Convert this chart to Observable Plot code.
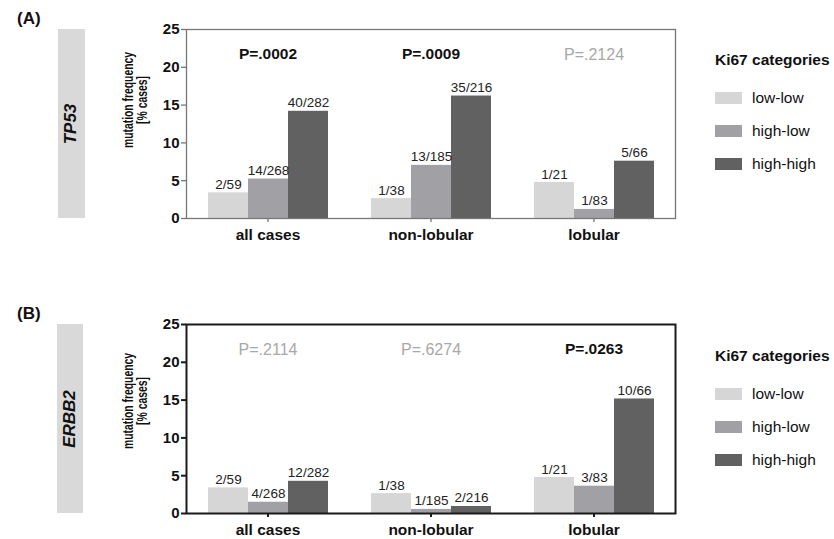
<!DOCTYPE html>
<html>
<head>
<meta charset="utf-8">
<script src="https://cdn.jsdelivr.net/npm/d3@7"></script>
<script src="https://cdn.jsdelivr.net/npm/@observablehq/plot@0.6"></script>
<style>
  html, body { margin: 0; padding: 0; background: #fff; }
  body { width: 834px; height: 539px; overflow: hidden; position: relative;
         font-family: "Liberation Sans", Arial, sans-serif; color: #111; }
  .abs { position: absolute; }
  .tag { font-weight: bold; font-size: 17px; }
  .gene { background: #d9d9d9; display: flex; align-items: center; justify-content: center; }
  .gene span { transform: rotate(-90deg); font-weight: bold; font-style: italic; font-size: 17px; white-space: nowrap; color: #111; }
  .ylab { transform: translate(-50%, -50%) rotate(-90deg) scale(0.74, 1); font-weight: bold; font-size: 14px;
          line-height: 14px; text-align: center; white-space: nowrap; }
  .legend-title { font-weight: bold; font-size: 15.5px; white-space: nowrap; }
  .legend-item { display: flex; align-items: center; font-size: 15.5px; white-space: nowrap; }
  .legend-item i { display: inline-block; width: 27px; height: 12px; margin-right: 10px; }
</style>
</head>
<body>
<script>
// ---- data ----
const groups = ["all cases", "non-lobular", "lobular"];
const series = ["low-low", "high-low", "high-high"];
const seriesColors = ["#d6d6d6", "#a1a1a5", "#616161"];
const yTicks = [0, 5, 10, 15, 20, 25];

const tp53Values = [3.39, 5.22, 14.18, 2.63, 7.03, 16.20, 4.76, 1.20, 7.58];
const tp53Labels = ["2/59", "14/268", "40/282", "1/38", "13/185", "35/216", "1/21", "1/83", "5/66"];
const tp53P = ["P=.0002", "P=.0009", "P=.2124"];
const tp53Sig = [true, true, false];

const erbb2Values = [3.39, 1.49, 4.26, 2.63, 0.54, 0.93, 4.76, 3.61, 15.15];
const erbb2Labels = ["2/59", "4/268", "12/282", "1/38", "1/185", "2/216", "1/21", "3/83", "10/66"];
const erbb2P = ["P=.2114", "P=.6274", "P=.0263"];
const erbb2Sig = [false, false, true];

const pY = 21.7;

function rowsOf(values, labels) {
  const rows = [];
  groups.forEach((g, i) => series.forEach((s, j) => {
    const k = i * series.length + j;
    rows.push({group: g, series: s, value: values[k], label: labels[k]});
  }));
  return rows;
}
function pRowsOf(ps, sig) {
  return groups.map((g, i) => ({group: g, p: ps[i], sig: sig[i], y: pY}));
}

function panel(values, labels, ps, sig, frameColor, frameWidth, height, marginBottom) {
  const rows = rowsOf(values, labels);
  const prows = pRowsOf(ps, sig);
  return Plot.plot({
    width: 690,
    height,
    marginLeft: 185,
    marginRight: 14,
    marginTop: 29,
    marginBottom,
    style: {fontFamily: '"Liberation Sans", Arial, sans-serif', background: "transparent", color: "#111", overflow: "visible"},
    fx: {domain: groups, padding: 0, label: null},
    x: {domain: series, paddingInner: 0, paddingOuter: 0.5, axis: null},
    y: {domain: [0, 25], label: null},
    color: {domain: series, range: seriesColors},
    marks: [
      Plot.barY(rows, {fx: "group", x: "series", y: "value", fill: "series"}),
      Plot.text(rows, {fx: "group", x: "series", y: "value", text: "label", lineAnchor: "bottom", dy: -4, fontSize: 13.5, fill: "#222"}),
      Plot.text(prows.filter(d => d.sig), {fx: "group", y: "y", text: "p", frameAnchor: "middle", fontSize: 15.5, fontWeight: "bold", fill: "#111"}),
      Plot.text(prows.filter(d => !d.sig), {fx: "group", y: "y", text: "p", frameAnchor: "middle", fontSize: 16, fill: "#a8a8a8"}),
      Plot.frame({facet: "super", stroke: frameColor, strokeWidth: frameWidth}),
      Plot.axisY({ticks: yTicks, tickSize: 5, tickPadding: 2, fontSize: 15, fontWeight: "bold", stroke: frameColor, strokeWidth: frameWidth, fill: "#111", label: null}),
      Plot.axisFx({anchor: "bottom", tickSize: 4, tickPadding: 6, fontSize: 15.5, fontWeight: "bold", stroke: frameColor, strokeWidth: frameWidth, fill: "#111", label: null})
    ]
  });
}

function addDiv(cls, style, html) {
  const d = document.createElement("div");
  d.className = "abs " + cls;
  Object.assign(d.style, style);
  if (html != null) d.innerHTML = html;
  document.body.appendChild(d);
  return d;
}

function legend(top) {
  const box = addDiv("", {left: "715px", top: top + "px"});
  const t = document.createElement("div");
  t.className = "legend-title";
  t.textContent = "Ki67 categories";
  t.style.marginBottom = "18px";
  box.appendChild(t);
  series.forEach((s, i) => {
    const it = document.createElement("div");
    it.className = "legend-item";
    it.style.height = "21px";
    it.style.marginBottom = "12px";
    it.innerHTML = `<i style="background:${seriesColors[i]}"></i><span>${s}</span>`;
    box.appendChild(it);
  });
}

function buildPanel(tag, tagTop, gene, geneBox, ylabCenter, svgTop, plotArgs, legendTop) {
  addDiv("tag", {left: "17px", top: tagTop + "px"}, tag);
  addDiv("gene", {left: geneBox[0] + "px", top: geneBox[1] + "px", width: geneBox[2] + "px", height: geneBox[3] + "px"}, `<span>${gene}</span>`);
  const svgWrap = addDiv("", {left: "0px", top: svgTop + "px"});
  svgWrap.appendChild(panel(...plotArgs));
  addDiv("ylab", {left: ylabCenter[0] + "px", top: ylabCenter[1] + "px"}, "mutation frequency<br>[% cases]");
  legend(legendTop);
}

buildPanel("(A)", 9, "TP53", [58, 29, 27, 189], [135, 100], 0,
  [tp53Values, tp53Labels, tp53P, tp53Sig, "#777777", 1.3, 250, 32], 51);
buildPanel("(B)", 304, "ERBB2", [57, 324, 26, 189], [135, 401], 295,
  [erbb2Values, erbb2Labels, erbb2P, erbb2Sig, "#1a1a1a", 2, 244, 26], 347);
</script>
</body>
</html>
